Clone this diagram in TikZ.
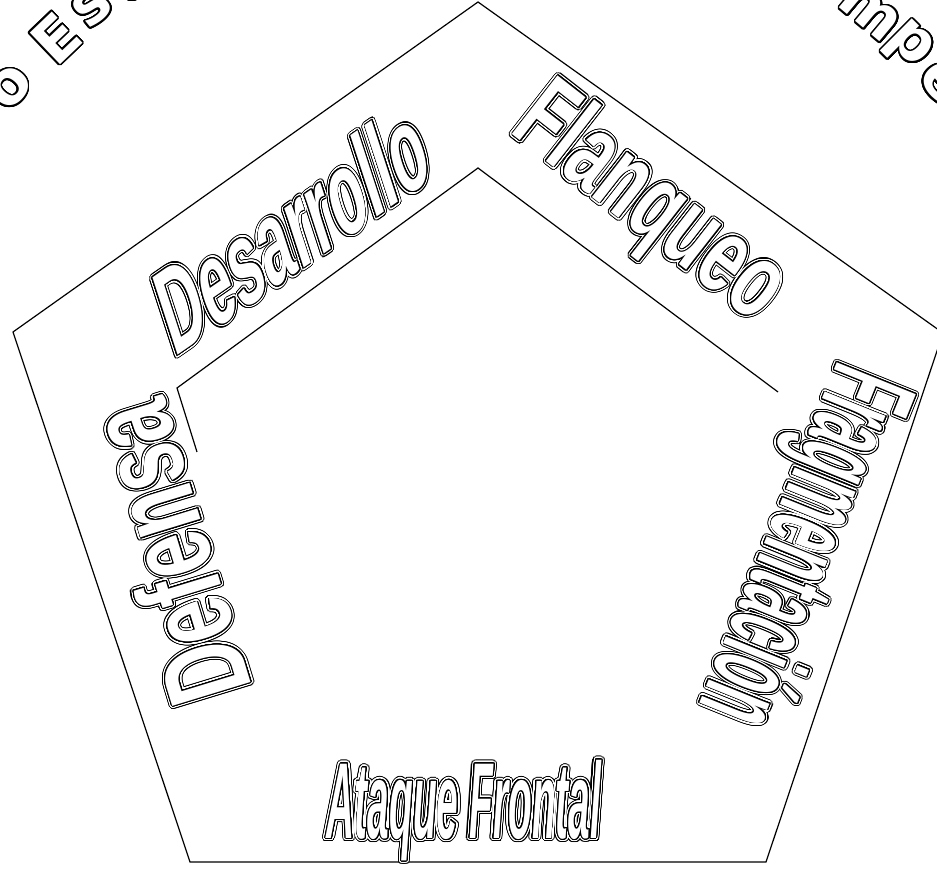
\documentclass[tikz,border=0pt]{standalone}
\usepackage{fontspec}
\usepackage[copies]{contour}
\usepackage{tikz}
\usetikzlibrary{positioning}
\newfontfamily\artfont{Liberation Sans}
\newfontfamily\roundfont{DejaVu Sans}
\contournumber{32}

% double outlined word art
\newcommand{\ringword}[1]{%
  \contourlength{3.4pt}\rlap{\color{black}\contour{black}{#1}}%
  \contourlength{2.3pt}\rlap{\color{white}\contour{white}{#1}}%
  \contourlength{0.9pt}\rlap{\color{black}\contour{black}{#1}}%
  {\color{white}#1}}
% single outlined letter
\newcommand{\rimword}[1]{\contourlength{1.6pt}{\color{white}\contour{black}{#1}}}
\newcommand{\artsize}[2]{\fontsize{#1}{#1}\selectfont\addfontfeatures{FakeStretch=#2}}

\begin{document}
\begin{tikzpicture}[x=1pt, y=1pt,
    edge/.style={line width=1.2pt, line join=miter},
    wordart/.style={inner sep=0pt, font=\artfont\bfseries},
    rimletter/.style={inner sep=0pt, font=\roundfont\bfseries\fontsize{60}{60}\selectfont}]
  \useasboundingbox (0,0) rectangle (937,869);

  % pentagons
  \coordinate (top) at (478,867);
  \coordinate (upleft) at (13,537);
  \coordinate (lowleft) at (190,7);
  \coordinate (lowright) at (766,7);
  \coordinate (upright) at (943,536);
  \coordinate (itop) at (478,701);
  \coordinate (ileft) at (177,481);
  \coordinate (istub) at (197,417);
  \coordinate (iright) at (778,477);
  \draw[edge] (top) -- (upleft) -- (lowleft) -- (lowright) -- (upright) -- cycle;
  \draw[edge] (istub) -- (ileft) -- (itop) -- (iright);

  % words on the sides
  \node[wordart, rotate=18, yslant=0.3] (desarrollo) at (292,640)
    {\artsize{118}{0.52}\ringword{Desarrollo}};
  \node[wordart, rotate=-38] (flanqueo) at (648,662)
    {\artsize{108}{0.65}\ringword{Flanqueo}};
  \node[wordart, rotate=-112] (fragmentacion) at (797,325)
    {\artsize{124}{0.42}\ringword{Fragmentación}};
  \node[wordart] (ataque) at (464,57)
    {\itshape\artsize{108}{0.36}\ringword{Ataque Frontal}};
  \node[wordart, rotate=107] (defensa) at (169,316)
    {\artsize{119}{0.66}\ringword{Defensa}};

  % letters on the outer ring
  \coordinate (hub) at (478,389);
  \foreach \ang/\ch [count=\i] in {140.0/o, 133.7/E, 129.2/s, 125.3/t}
    \node[rimletter, rotate=\ang-90] (leftarc\i) at ([shift={(\ang:610pt)}]hub) {\rimword{\ch}};
  \foreach \ang/\ch [count=\i] in {55.0/o, 50.0/m, 45.2/p, 40.6/e}
    \node[rimletter, rotate=\ang-90] (rightarc\i) at ([shift={(\ang:610pt)}]hub) {\rimword{\ch}};
\end{tikzpicture}
\end{document}
